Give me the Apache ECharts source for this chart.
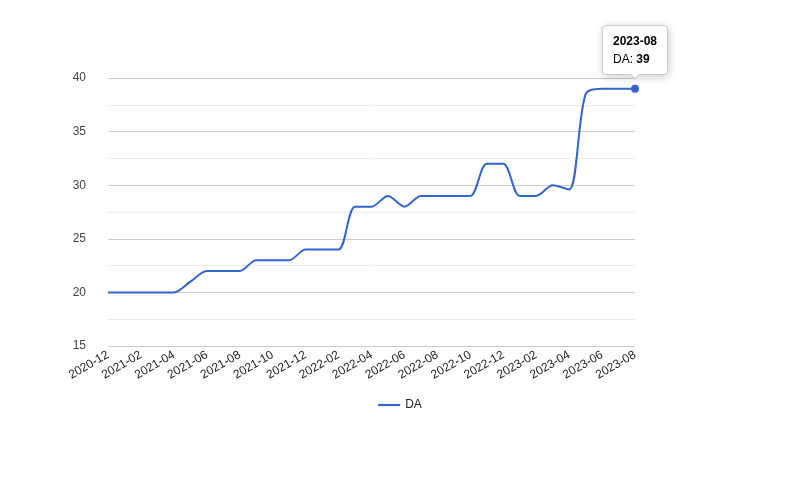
<!DOCTYPE html>
<html>
<head>
<meta charset="utf-8">
<script src="https://cdn.jsdelivr.net/npm/echarts@6/dist/echarts.min.js"></script>
<style>html,body{margin:0;padding:0;background:#fff}#main{width:800px;height:480px}</style>
</head>
<body>
<div id="main"></div>
<script>
var months = ['2020-12','2021-01','2021-02','2021-03','2021-04','2021-05','2021-06','2021-07','2021-08','2021-09','2021-10','2021-11','2021-12',
    '2022-01','2022-02','2022-03','2022-04','2022-05','2022-06','2022-07','2022-08','2022-09','2022-10','2022-11','2022-12',
    '2023-01','2023-02','2023-03','2023-04','2023-05','2023-06','2023-07','2023-08'];
var daValues = [20,20,20,20,20,21,22,22,22,23,23,23,24,24,24,28,28,29,28,29,29,29,29,32,32,29,29,30,29.6,38.5,39,39,39];

var myChart = echarts.init(document.getElementById('main'));
var seriesData = daValues.map(function (v, i) {
    return i === daValues.length - 1 ? {value: v, symbol: 'circle', symbolSize: 8} : {value: v, symbol: 'none'};
});
var option = {
    animation: false,
    textStyle: {fontFamily: 'Arial, Liberation Sans'},
    grid: {left: 108, right: 165, top: 78, bottom: 134},
    legend: {
        bottom: 64, left: 'center', icon: 'path://M0,0H20V2H0Z', itemWidth: 22, itemHeight: 3,
        textStyle: {color: '#222', fontSize: 12}, data: ['DA']
    },
    tooltip: {
        trigger: 'item', backgroundColor: '#fff', borderColor: '#ccc', borderWidth: 1,
        padding: [6, 10], textStyle: {color: '#000', fontSize: 12}, position: 'top',
        formatter: function (p) {
            return '<b>' + p.name + '</b><br/>DA: <b>' + p.value + '</b>';
        }
    },
    xAxis: {
        type: 'category', data: months, boundaryGap: false,
        axisLine: {show: false}, axisTick: {show: false},
        axisLabel: {rotate: 30, interval: 1, color: '#222', fontSize: 12, margin: 8},
        splitLine: {show: false}
    },
    yAxis: {
        type: 'value', min: 15, max: 40, interval: 5,
        axisLine: {show: false}, axisTick: {show: false},
        axisLabel: {color: '#444', fontSize: 12, margin: 22},
        splitLine: {lineStyle: {color: '#ccc'}},
        minorTick: {show: false, splitNumber: 2},
        minorSplitLine: {show: true, lineStyle: {color: '#ebebeb'}}
    },
    series: [{
        name: 'DA', type: 'line', data: seriesData, smooth: 0.3,
        showSymbol: true,
        lineStyle: {color: '#3366cc', width: 2},
        itemStyle: {color: '#3366cc'}
    }]
};
myChart.setOption(option);
setTimeout(function () {
    myChart.dispatchAction({type: 'showTip', seriesIndex: 0, dataIndex: months.length - 1});
}, 50);
</script>
</body>
</html>
